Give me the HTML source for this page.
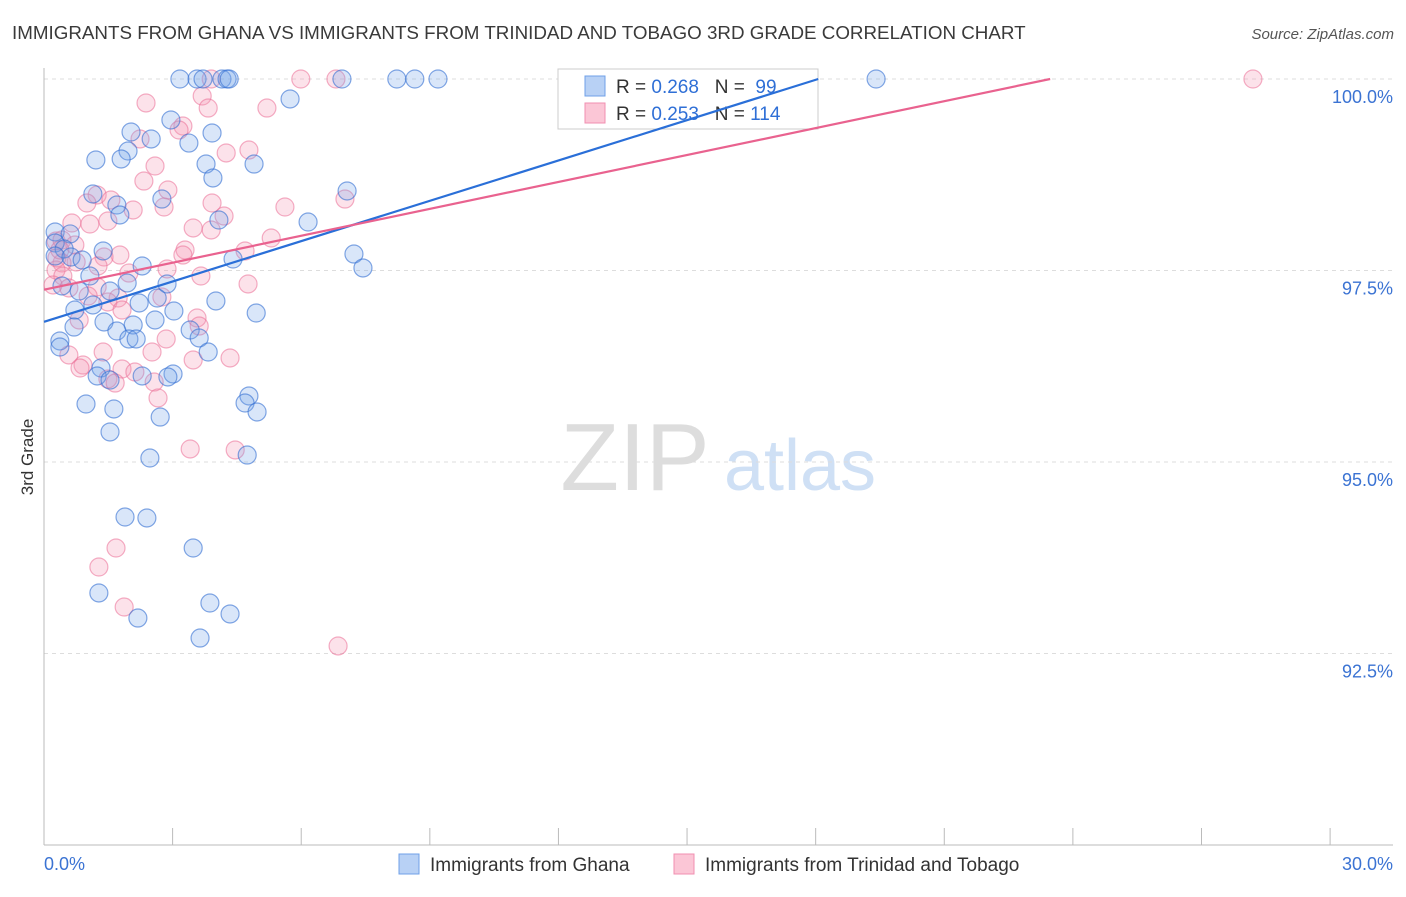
<!DOCTYPE html>
<html><head><meta charset="utf-8"><style>
body{margin:0;background:#fff;font-family:"Liberation Sans",sans-serif;}
svg text{font-family:"Liberation Sans",sans-serif;}
</style></head><body>
<svg id="chart" width="1406" height="892">
<text x="12" y="39" font-size="18.8" fill="#3a3a3a">IMMIGRANTS FROM GHANA VS IMMIGRANTS FROM TRINIDAD AND TOBAGO 3RD GRADE CORRELATION CHART</text>
<text x="1394" y="39" font-size="15" fill="#555" font-style="italic" text-anchor="end">Source: ZipAtlas.com</text>
<text x="33" y="457" font-size="17" fill="#333" transform="rotate(-90 33 457)" text-anchor="middle">3rd Grade</text>
<g><text x="635" y="490" font-size="96" fill="#ddd" font-family="Liberation Serif" text-anchor="middle">ZIP</text><text x="800" y="490" font-size="72" fill="#cfe0f5" text-anchor="middle">atlas</text></g>
<g id="grid"></g><g id="axes"></g><g id="pts"></g>
<g>
<rect x="558" y="69" width="260" height="60" fill="#fff" stroke="#ccc"/>
<rect x="585" y="76" width="20" height="20" fill="#b8d1f5" stroke="#6fa0e8"/>
<rect x="585" y="103" width="20" height="20" fill="#fbc6d6" stroke="#f08fb0"/>
<text x="616" y="93" font-size="19" fill="#333" xml:space="preserve">R = <tspan fill="#2f6fd6">0.268</tspan>   N =  <tspan fill="#2f6fd6">99</tspan></text>
<text x="616" y="120" font-size="19" fill="#333" xml:space="preserve">R = <tspan fill="#2f6fd6">0.253</tspan>   N = <tspan fill="#2f6fd6">114</tspan></text>
</g>
<g id="lines"></g>
<g>
<rect x="399" y="854" width="20" height="20" fill="#b8d1f5" stroke="#6fa0e8"/>
<text x="430" y="871" font-size="19" fill="#333">Immigrants from Ghana</text>
<rect x="674" y="854" width="20" height="20" fill="#fbc6d6" stroke="#f08fb0"/>
<text x="705" y="871" font-size="19" fill="#333">Immigrants from Trinidad and Tobago</text>
</g>
</svg>
<script>
const yTicks=[100,97.5,95,92.5];
const yTickLabels=["100.0%","97.5%","95.0%","92.5%"];
const xEnds=[0,30];
const xEndLabels=["0.0%","30.0%"];
const bluePx=[[180,79],[197,79],[203,79],[222,79],[227,79],[229,79],[342,79],[397,79],[415,79],[438,79],[876,79],[290,99],[171,120],[131,132],[212,133],[189,143],[151,139],[128,151],[96,160],[121,159],[206,164],[254,164],[213,178],[347,191],[93,194],[117,205],[120,215],[162,199],[219,220],[308,222],[55,232],[70,234],[55,243],[64,249],[103,251],[55,256],[71,257],[82,260],[233,259],[354,254],[363,268],[142,266],[90,276],[62,286],[127,283],[167,284],[79,291],[110,291],[157,298],[139,303],[216,301],[93,305],[75,310],[256,313],[174,311],[155,320],[104,322],[74,327],[133,325],[117,331],[190,330],[60,341],[129,339],[136,339],[199,338],[60,347],[208,352],[101,368],[97,376],[110,380],[173,374],[168,377],[142,376],[249,396],[245,403],[86,404],[114,409],[257,412],[160,417],[110,432],[150,458],[247,455],[125,517],[147,518],[193,548],[99,593],[210,603],[138,618],[230,614],[200,638]];
const pinkPx=[[211,79],[301,79],[336,79],[1253,79],[202,96],[146,103],[267,108],[208,108],[183,126],[179,130],[140,139],[249,150],[226,153],[155,166],[144,181],[168,190],[97,195],[111,200],[87,203],[133,210],[285,207],[164,207],[212,203],[224,216],[72,223],[90,224],[108,221],[193,228],[211,230],[271,238],[56,241],[62,240],[75,245],[245,251],[185,250],[183,255],[120,255],[104,257],[76,262],[62,263],[56,270],[98,266],[167,269],[129,273],[63,276],[201,276],[53,285],[248,284],[69,288],[97,287],[118,298],[108,302],[162,297],[88,296],[122,310],[79,320],[197,318],[199,326],[166,339],[152,352],[103,352],[69,355],[230,358],[193,360],[83,365],[80,368],[122,369],[135,372],[108,379],[154,382],[115,383],[158,398],[190,449],[235,450],[116,548],[99,567],[124,607],[338,646],[345,199],[57,258],[60,250]];
const ghanaX=bluePx.map(p=>+((p[0]-44)/42.87).toFixed(2));
const ghanaY=bluePx.map(p=>+(100-(p[1]-79)/76.6).toFixed(3));
const trinX=pinkPx.map(p=>+((p[0]-44)/42.87).toFixed(2));
const trinY=pinkPx.map(p=>+(100-(p[1]-79)/76.6).toFixed(3));
const blueTrend=[[0,96.83],[18.06,100]];
const pinkTrend=[[0,97.25],[23.47,100]];
const X=v=>44+v*42.87, Y=v=>79+(100-v)*76.6;
const NS="http://www.w3.org/2000/svg";
function mk(t,a,p){const e=document.createElementNS(NS,t);for(const k in a)e.setAttribute(k,a[k]);p.appendChild(e);return e;}
const grid=document.getElementById('grid'),axes=document.getElementById('axes');
yTicks.forEach((t,i)=>{
 const g=mk('line',{x1:44,x2:1393,y1:Y(t),y2:Y(t),stroke:'#ddd','stroke-dasharray':'4 4'},grid);
 
 
 const tx=mk('text',{x:1393,y:Y(t)+24,'font-size':18,fill:'#3b73d3','text-anchor':'end'},axes);
 tx.textContent=yTickLabels[i];
 
 
});
mk('line',{x1:44,x2:44,y1:68,y2:845,stroke:'#bbb'},axes);
mk('line',{x1:44,x2:1393,y1:845,y2:845,stroke:'#bbb'},axes);
for(let i=0;i<=10;i++){mk('line',{x1:X(i*3),x2:X(i*3),y1:828,y2:845,stroke:'#bbb'},axes);}
xEnds.forEach((v,i)=>{const t=mk('text',{x:i?1393:44,y:870,'font-size':18,fill:'#3b73d3','text-anchor':i?'end':'start'},axes);t.textContent=xEndLabels[i];
 
 });
const pts=document.getElementById('pts');
function draw(xs,ys,fill,stroke,name){xs.forEach((x,i)=>{const c=mk('circle',{cx:X(x),cy:Y(ys[i]),r:9,fill:fill,stroke:stroke,'stroke-width':1.2},pts);
 
 });}
draw(trinX,trinY,'rgba(245,150,180,0.28)','rgba(235,110,150,0.55)','trinidad-point');
draw(ghanaX,ghanaY,'rgba(120,165,235,0.28)','rgba(50,110,210,0.6)','ghana-point');
const lines=document.getElementById('lines');
const bl=mk('line',{x1:X(blueTrend[0][0]),y1:Y(blueTrend[0][1]),x2:X(blueTrend[1][0]),y2:Y(blueTrend[1][1]),stroke:'#2a6fd8','stroke-width':2.2},lines);


const pl=mk('line',{x1:X(pinkTrend[0][0]),y1:Y(pinkTrend[0][1]),x2:X(pinkTrend[1][0]),y2:Y(pinkTrend[1][1]),stroke:'#e9628f','stroke-width':2.2},lines);


</script>
</body></html>
